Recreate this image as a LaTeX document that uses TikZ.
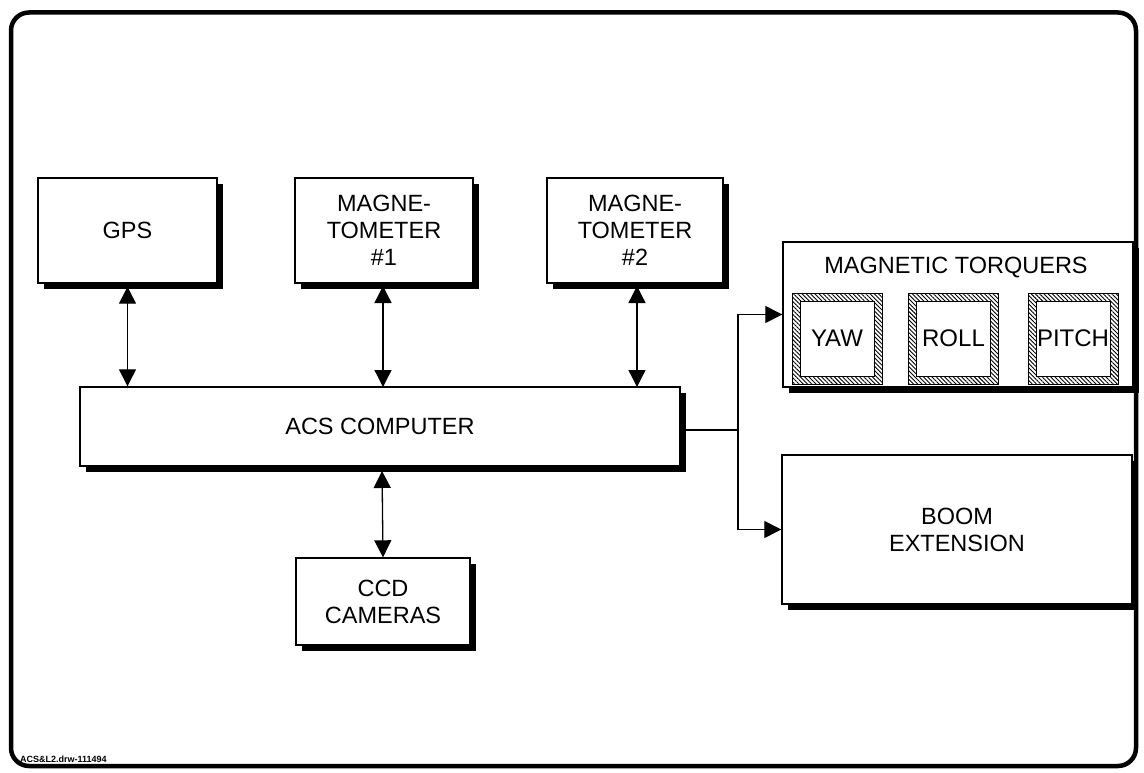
\documentclass[tikz,border=0pt]{standalone}
\usepackage{fontspec}
\setmainfont{Liberation Sans}
\usetikzlibrary{shadows,patterns.meta,arrows.meta}
\begin{document}
\begin{tikzpicture}[x=1pt,y=-1pt,
  blk/.style={draw,line width=1.4pt,fill=white,inner sep=0pt,align=center,
    font=\fontsize{23.5}{27}\selectfont,
    drop shadow={shadow xshift=6pt,shadow yshift=-6pt,fill=black,opacity=1}},
  hatchout/.style={draw,line width=0.9pt,inner sep=0pt,minimum width=90pt,minimum height=91pt,
    pattern={Lines[angle=-45,distance=3pt,line width=0.9pt]}},
  hatchin/.style={draw,line width=0.9pt,fill=white,inner sep=0pt,minimum width=74pt,minimum height=75pt,
    font=\fontsize{24}{27}\selectfont},
  conn/.style={line width=1.3pt},
  arr/.style={line width=1.3pt,-{Triangle[length=17pt,width=17pt]}},
  darr/.style={line width=1.3pt,{Triangle[length=17pt,width=17pt]}-{Triangle[length=17pt,width=17pt]}}
]
\useasboundingbox (0,0) rectangle (1144,773);
\draw[line width=4.5pt,rounded corners=18pt] (11,12.5) rectangle (1136,766);

\node[blk,minimum width=179pt,minimum height=105pt] (gps) at (127.5,230.5) {GPS};
\node[blk,minimum width=178pt,minimum height=105pt] (mag1) at (384,230.5) {MAGNE-\\TOMETER\\\#1};
\node[blk,minimum width=176pt,minimum height=105pt] (mag2) at (635,230.5) {MAGNE-\\TOMETER\\\#2};
\node[blk,minimum width=600pt,minimum height=79pt] (acs) at (380,426.5) {ACS COMPUTER};
\node[blk,minimum width=174pt,minimum height=87pt] (ccd) at (383,601.5) {CCD\\CAMERAS};
\node[blk,minimum width=350pt,minimum height=145pt] (tq) at (958,314.5) {};
\node[font=\fontsize{23.5}{27}\selectfont] (tqlab) at (956,268) {MAGNETIC TORQUERS};
\node[hatchout] (yawo) at (837,338.5) {};
\node[hatchin] (yaw) at (yawo) {YAW};
\node[hatchout] (rollo) at (953.5,338.5) {};
\node[hatchin] (roll) at (rollo) {ROLL};
\node[hatchout] (pitcho) at (1073,338.5) {};
\node[hatchin] (pitch) at (pitcho) {PITCH};
\node[blk,minimum width=350pt,minimum height=149pt] (boom) at (957,529.5) {BOOM\\EXTENSION};

\node[anchor=base west,inner sep=0pt,font=\fontsize{9}{10}\selectfont\bfseries] (tag) at (20,762) {ACS\&L2.drw-111494};

\draw[darr,shorten <=3pt] (gps.south) -- (gps.south |- acs.north);
\draw[darr,shorten <=3pt] (383,283) -- (383,387);
\draw[darr,shorten <=3pt] (637,283) -- (637,387);
\draw[darr,shorten <=5pt] (382,466) -- (ccd.north);

\coordinate (j) at (738,430);
\draw[conn] ([yshift=-3.5pt]acs.east) -- (j);
\draw[arr] (j) |- (tq.west);
\draw[arr] (j) |- (boom.west);
\end{tikzpicture}
\end{document}
